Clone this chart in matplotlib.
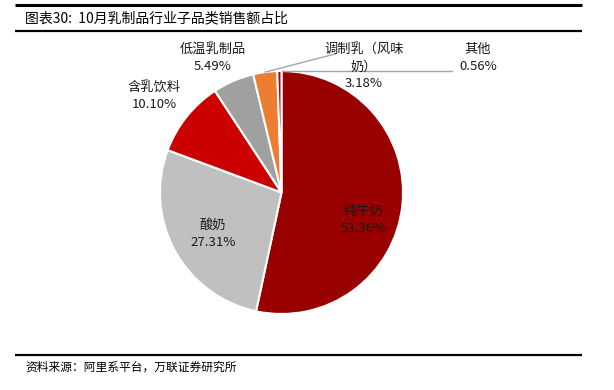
import matplotlib
matplotlib.use("Agg")
import matplotlib.pyplot as plt
import numpy as np

plt.rcParams['font.family'] = ['Noto Sans CJK SC', 'DejaVu Sans']

categories = ['纯牛奶', '酸奶', '含乳饮料', '低温乳制品', '调制乳（风味奶）', '其他']
values = [53.36, 27.31, 10.10, 5.49, 3.18, 0.56]
colors = ['#990000', '#C0C0C0', '#CC0000', '#A0A0A0', '#ED7D31', '#A50010']
title = '图表30:  10月乳制品行业子品类销售额占比'
source = '资料来源：阿里系平台，万联证券研究所'

W, H = 614, 390
fig = plt.figure(figsize=(W / 100, H / 100), dpi=100)
ax = fig.add_axes([0, 0, 1, 1])

cx, cy, r = 281.5, H - 192.5, 121.5
wedges, _ = ax.pie(values, colors=colors, startangle=90, counterclock=False,
                   center=(cx, cy), radius=r,
                   wedgeprops=dict(edgecolor='white', linewidth=1.5))
ax.set_xlim(0, W)
ax.set_ylim(0, H)
ax.set_aspect('equal')
ax.axis('off')

def Y(y):
    return H - y

fs = 9.5
lab_txt = ['纯牛奶\n', '酸奶\n', '含乳饮料\n', '低温乳制品\n', '调制乳（风味\n奶）\n', '其他\n']
pos = [(363, 220), (213, 234), (154, 96), (213, 58), (364, 67), (478, 58)]
for i, (name, v) in enumerate(zip(lab_txt, values)):
    x, y = pos[i]
    ax.text(x, Y(y), f'{name}{v:.2f}%', ha='center', va='center', fontsize=fs,
            color='#1a1a1a', linespacing=1.35)

def edge_point(w):
    ang = np.deg2rad((w.theta1 + w.theta2) / 2)
    return cx + r * np.cos(ang), cy + r * np.sin(ang)

# leader lines
px, py = edge_point(wedges[4])
ax.plot([px, 335], [py, Y(54)], color='#A6A6A6', lw=1)
px, py = edge_point(wedges[5])
ax.plot([px + 3, 452], [py, py], color='#A6A6A6', lw=1)

# header / footer lines
ax.plot([15, 582], [Y(5), Y(5)], color='black', lw=2.2, solid_capstyle='butt')
ax.plot([15, 582], [Y(30.5), Y(30.5)], color='black', lw=1.6, solid_capstyle='butt')
ax.plot([15, 582], [Y(355), Y(355)], color='black', lw=1.6, solid_capstyle='butt')

ax.text(25, Y(18), title, ha='left', va='center', fontsize=10, color='black')
ax.text(25, Y(367), source, ha='left', va='center', fontsize=8.5, color='black',
        style='italic')

fig.savefig('out.png', dpi=100)
